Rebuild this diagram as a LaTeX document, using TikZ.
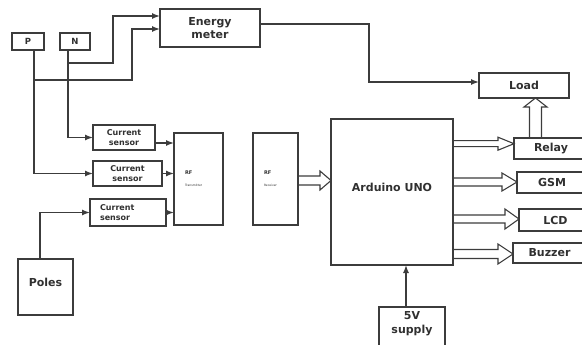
\documentclass[tikz,border=0pt]{standalone}
\usepackage{fontspec}
\setmainfont{DejaVu Sans}
\usetikzlibrary{arrows.meta,calc}
\definecolor{linec}{HTML}{3C3C3C}
\definecolor{textc}{HTML}{303030}
\tikzset{
  box/.style={draw=linec, line width=1.2pt, inner sep=0pt, outer sep=0pt, anchor=north west,
    align=center, text=textc, font=\bfseries\fontsize{11}{13}\selectfont},
  smallbox/.style={box, font=\bfseries\fontsize{8}{10}\selectfont},
  lbl/.style={text=textc, font=\bfseries\fontsize{11}{14}\selectfont, align=center, inner sep=0pt},
  conn/.style={draw=linec, line width=1.4pt, -{Latex[length=8pt,width=6pt]}},
  hollow/.style n args={3}{draw=linec, line width=1.1pt, line join=miter, to path={
     ($(\tikztotarget)!#3pt!(\tikztostart)$) coordinate (hb)
     ($(\tikztostart)!#1pt!90:(\tikztotarget)$) -- ($(hb)!#1pt!90:(\tikztotarget)$)
     -- ($(hb)!#2pt!90:(\tikztotarget)$) -- (\tikztotarget)
     -- ($(hb)!#2pt!-90:(\tikztotarget)$) -- ($(hb)!#1pt!-90:(\tikztotarget)$)
     -- ($(\tikztostart)!#1pt!-90:(\tikztotarget)$)}},
}
\begin{document}
\begin{tikzpicture}[x=1pt,y=-1pt]
\useasboundingbox (0,0) rectangle (582,345);
% nodes
\node[box, minimum width=32pt, minimum height=17pt, font=\bfseries\fontsize{8.5}{10}\selectfont] (P) at (12,33) {P};
\node[box, minimum width=30pt, minimum height=17pt, font=\bfseries\fontsize{8.5}{10}\selectfont] (N) at (60,33) {N};
\node[box, minimum width=100pt, minimum height=38pt] (em) at (160,9) {Energy\\meter};
\node[smallbox, minimum width=62pt, minimum height=25pt] (cs1) at (93,125) {Current\\sensor};
\node[smallbox, minimum width=69pt, minimum height=25pt] (cs2) at (93,161) {Current\\sensor};
\node[smallbox, text width=56pt, inner xsep=10pt, align=left, minimum height=27pt] (cs3) at (90,199) {Current\\sensor};
\node[box, text width=27pt, inner xsep=11pt, align=left, minimum height=92pt] (rft) at (174,133)
  {{\fontsize{5}{6}\selectfont RF}\\[-1pt]{\mdseries\fontsize{3}{4}\selectfont Transmitter}};
\node[box, text width=23pt, inner xsep=11pt, align=left, minimum height=92pt] (rfr) at (253,133)
  {{\fontsize{5}{6}\selectfont RF}\\[-1pt]{\mdseries\fontsize{3}{4}\selectfont Receiver}};
\node[box, minimum width=122pt, minimum height=146pt,
  label={[lbl, yshift=5pt]center:Arduino UNO}] (ard) at (331,119) {};
\node[box, minimum width=55pt, minimum height=56pt,
  label={[lbl, yshift=5pt]center:Poles}] (poles) at (18,259) {};
\node[box, minimum width=90pt, minimum height=25pt] (load) at (479,73) {Load};
\node[box, minimum width=74pt, minimum height=21pt] (relay) at (514,138) {Relay};
\node[box, minimum width=70pt, minimum height=21pt] (gsm) at (517,172) {GSM};
\node[box, minimum width=73pt, minimum height=22pt] (lcd) at (519,209) {LCD};
\node[box, minimum width=73pt, minimum height=20pt] (buz) at (513,243) {Buzzer};
\node[box, minimum width=66pt, minimum height=45pt,
  label={[lbl, yshift=6pt]center:5V\\supply}] (sup) at (379,307) {};
% wires
\coordinate (nx) at ($(N.south west)+(8,0)$);
\coordinate (px) at ($(P.south west)+(22,0)$);
\coordinate (plx) at ($(poles.north west)+(22,0)$);
\coordinate (sx) at ($(sup.north west)+(27,0)$);
\draw[conn] (nx) |- (113,63) |- (em.west |- 0,16);
\draw[conn] (px) |- (132,80) |- (em.west |- 0,29);
\draw[conn] (nx) |- (cs1.west);
\draw[conn] (px) |- (cs2.west);
\draw[conn] (plx) |- (cs3.west);
\draw[conn] (cs1.east |- 0,143) -- (rft.west |- 0,143);
\draw[conn] (cs2.east) -- (rft.west |- cs2.east);
\draw[conn] (cs3.east) -- (rft.west |- cs3.east);
\draw[conn] (em.east |- 0,24) -| (369,82) -- (load.west |- 0,82);
\draw[conn] (sx) -- (sx |- ard.south);
% hollow arrows
\coordinate (a1) at (rfr.east |- 0,180.5); \coordinate (b1) at (ard.west |- 0,180.5);
\coordinate (a2) at (ard.east |- 0,143.7); \coordinate (b2) at (relay.west |- 0,143.7);
\coordinate (a3) at (ard.east |- 0,182);   \coordinate (b3) at (gsm.west |- 0,182);
\coordinate (a4) at (ard.east |- 0,219);   \coordinate (b4) at (lcd.west |- 0,219);
\coordinate (a5) at (ard.east |- 0,254);   \coordinate (b5) at (buz.west |- 0,254);
\coordinate (a6) at (535.5,0 |- relay.north); \coordinate (b6) at (535.5,0 |- load.south);
\draw[hollow={4.5}{9.5}{11}] (a1) to (b1);
\draw[hollow={3}{6.5}{16}] (a2) to (b2);
\draw[hollow={4}{9}{15}] (a3) to (b3);
\draw[hollow={4}{10}{14}] (a4) to (b4);
\draw[hollow={4.5}{10}{15}] (a5) to (b5);
\draw[hollow={6}{11.5}{9}] (a6) to (b6);
\end{tikzpicture}
\end{document}
